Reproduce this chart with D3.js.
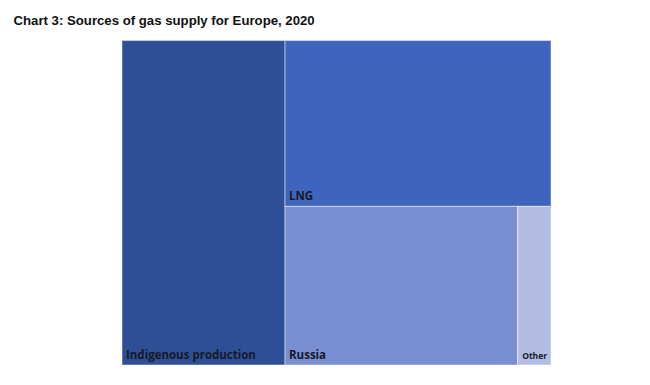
<!DOCTYPE html>
<html>
<head>
<meta charset="utf-8">
<script src="https://cdn.jsdelivr.net/npm/d3@7/dist/d3.min.js"></script>
<style>
  html, body { margin: 0; padding: 0; background: #fff; }
  svg { display: block; }
</style>
</head>
<body>
<svg id="chart" width="650" height="385"></svg>
<script>
// Data (share of European gas supply, %, 2020)
const categories = ["Indigenous production", "LNG", "Russia", "Other"];
const shares = [38.0, 31.7, 26.5, 3.8];
const colors = ["#2e4f96", "#3e64be", "#7a8ed2", "#b3bce2"];
const labelSizes = [11.5, 11.5, 11.5, 8.5];

const title = "Chart 3: Sources of gas supply for Europe, 2020";

const svg = d3.select("#chart");
const W = 650, H = 385;
const box = { x: 122, y: 40.5, w: 429, h: 324.5 };

svg.append("text")
  .attr("x", 13.5).attr("y", 24.5)
  .attr("font-family", "Liberation Sans, Arial, sans-serif")
  .attr("font-weight", "bold")
  .attr("font-size", 13.2)
  .attr("fill", "#111")
  .text(title);

// Nested structure: Indigenous | (LNG / (Russia | Other))
const leaf = i => ({ name: categories[i], value: shares[i], idx: i });
const rootData = {
  name: "root",
  children: [
    leaf(0),
    { name: "g1", children: [leaf(1), { name: "g2", children: [leaf(2), leaf(3)] }] }
  ]
};

const root = d3.hierarchy(rootData).sum(d => d.value || 0);
d3.treemap().size([box.w, box.h]).tile(d3.treemapSliceDice).round(false)(root);

const g = svg.append("g").attr("transform", `translate(${box.x},${box.y})`);

const leaves = root.leaves();
const cell = g.selectAll("g.cell").data(leaves).join("g").attr("class", "cell");

cell.append("rect")
  .attr("x", d => d.x0).attr("y", d => d.y0)
  .attr("width", d => d.x1 - d.x0).attr("height", d => d.y1 - d.y0)
  .attr("fill", d => colors[d.data.idx])
  .attr("stroke", "rgba(255,255,255,0.4)")
  .attr("stroke-width", 1.2);

cell.append("text")
  .attr("x", d => d.x0 + (d.data.idx === 3 ? 4.5 : 4))
  .attr("y", d => d.y1 - (d.data.idx === 3 ? 6 : 6.5))
  .attr("font-family", "Open Sans, Noto Sans, sans-serif")
  .attr("font-weight", "bold")
  .attr("font-size", d => labelSizes[d.data.idx])
  .attr("fill", "#161a2a")
  .text(d => d.data.name);
</script>
</body>
</html>
